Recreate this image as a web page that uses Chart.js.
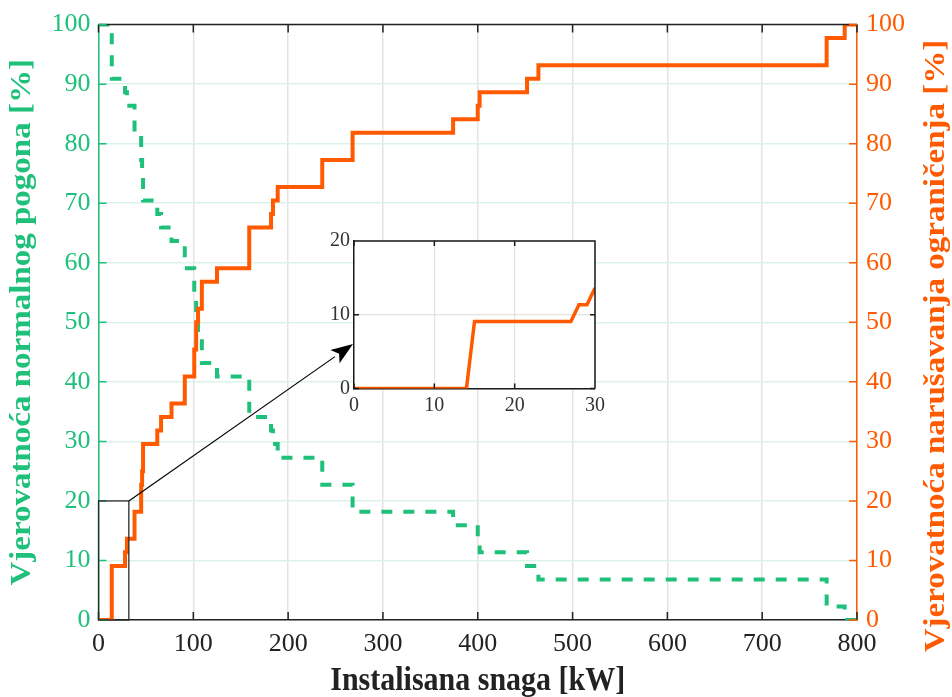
<!DOCTYPE html>
<html>
<head>
<meta charset="utf-8">
<script src="https://cdn.jsdelivr.net/npm/chart.js@4.4.0/dist/chart.umd.min.js"></script>
<style>
  body { margin: 0; background: #fff; }
  #wrap { position: relative; width: 952px; height: 697px; }
  #main-chart { position: absolute; left: 0; top: 0; }
  #inset-chart { position: absolute; left: 310px; top: 225px; }
</style>
</head>
<body>
<div id="wrap">
  <canvas id="main-chart" width="952" height="697"></canvas>
  <canvas id="inset-chart" width="300" height="200"></canvas>
</div>
<script>
// installed power where the probabilities change [kW]
const powerKW = [0, 14, 28, 30, 38, 45, 46, 47, 62, 66, 77, 91, 101, 103, 105, 109, 125, 159, 182, 184, 189, 236, 268, 374, 400, 402, 452, 464, 768, 787, 800];
// probability of constraint violation [%]
const violationPct = [0, 9.09, 11.36, 13.64, 18.18, 22.73, 25.0, 29.55, 31.82, 34.09, 36.36, 40.91, 45.45, 50.0, 52.27, 56.82, 59.09, 65.91, 68.18, 70.45, 72.73, 77.27, 81.82, 84.09, 86.36, 88.64, 90.91, 93.18, 97.73, 100, 100];
// probability of normal operation [%]
const normalPct = [100, 90.91, 88.64, 86.36, 81.82, 77.27, 75.0, 70.45, 68.18, 65.91, 63.64, 59.09, 54.55, 50.0, 47.73, 43.18, 40.91, 34.09, 31.82, 29.55, 27.27, 22.73, 18.18, 15.91, 13.64, 11.36, 9.09, 6.82, 2.27, 0, 0];

// zoomed detail, first 30 kW
const insetKW = [0, 14, 15, 27, 28, 29, 30];
const insetPct = [0, 0, 9.09, 9.09, 11.36, 11.36, 13.64];

const xTicks = [0, 100, 200, 300, 400, 500, 600, 700, 800];
const yTicks = [0, 10, 20, 30, 40, 50, 60, 70, 80, 90, 100];

const ORANGE = "#ff5a00";
const GREEN = "#1fc07a";
const SERIF = "'Liberation Serif', 'Times New Roman', serif";

// rectangle marking the zoomed region, in data units
const zoomBox = { x0: 0, x1: 32, y0: 0, y1: 20 };
// arrow tip, pixel position on the inset's left edge
const arrowTip = { x: 353, y: 344 };

const toPoints = (xs, ys) => xs.map((x, i) => ({ x: x, y: ys[i] }));

// bold title, slightly stretched along its height
function drawTitle(ctx, text, x, y, rot, color) {
  ctx.save();
  ctx.translate(x, y);
  ctx.rotate(rot);
  if (rot === 0) ctx.scale(1, 1.1);
  else ctx.scale(1.1, 1);
  ctx.font = "bold 30px " + SERIF;
  ctx.textAlign = "center";
  ctx.textBaseline = rot === 0 ? "alphabetic" : "middle";
  ctx.fillStyle = color;
  ctx.fillText(text, 0, 0);
  ctx.restore();
}

const mainFrame = {
  id: "mainFrame",
  afterDraw(chart) {
    const { ctx, chartArea: a, scales } = chart;
    const tick = 8;
    ctx.save();
    ctx.lineWidth = 1.5;

    // top edge of the box
    ctx.strokeStyle = "#222";
    ctx.beginPath();
    ctx.moveTo(a.left, a.top);
    ctx.lineTo(a.right, a.top);
    ctx.stroke();

    // inward ticks, bottom and top
    ctx.beginPath();
    xTicks.forEach((v) => {
      const px = scales.x.getPixelForValue(v);
      ctx.moveTo(px, a.bottom);
      ctx.lineTo(px, a.bottom - tick);
      ctx.moveTo(px, a.top);
      ctx.lineTo(px, a.top + tick);
    });
    ctx.stroke();

    // inward ticks, left (green) and right (orange)
    ctx.strokeStyle = GREEN;
    ctx.beginPath();
    yTicks.forEach((v) => {
      const py = scales.y.getPixelForValue(v);
      ctx.moveTo(a.left, py);
      ctx.lineTo(a.left + tick, py);
    });
    ctx.stroke();
    ctx.strokeStyle = ORANGE;
    ctx.beginPath();
    yTicks.forEach((v) => {
      const py = scales.y1.getPixelForValue(v);
      ctx.moveTo(a.right, py);
      ctx.lineTo(a.right - tick, py);
    });
    ctx.stroke();

    // zoom rectangle
    const bx0 = scales.x.getPixelForValue(zoomBox.x0);
    const bx1 = scales.x.getPixelForValue(zoomBox.x1);
    const by0 = scales.y.getPixelForValue(zoomBox.y0);
    const by1 = scales.y.getPixelForValue(zoomBox.y1);
    ctx.strokeStyle = "#2a2a2a";
    ctx.lineWidth = 1.3;
    ctx.strokeRect(bx0, by1, bx1 - bx0, by0 - by1);

    // arrow to the inset
    const ang = Math.atan2(arrowTip.y - by1, arrowTip.x - bx1);
    const headLen = 22, headHalf = 8;
    const baseX = arrowTip.x - headLen * Math.cos(ang);
    const baseY = arrowTip.y - headLen * Math.sin(ang);
    ctx.strokeStyle = "#000";
    ctx.lineWidth = 1.2;
    ctx.beginPath();
    ctx.moveTo(bx1, by1);
    ctx.lineTo(baseX, baseY);
    ctx.stroke();
    ctx.fillStyle = "#000";
    ctx.beginPath();
    ctx.moveTo(arrowTip.x, arrowTip.y);
    ctx.lineTo(baseX - headHalf * Math.sin(ang), baseY + headHalf * Math.cos(ang));
    ctx.lineTo(baseX + 5 * Math.cos(ang), baseY + 5 * Math.sin(ang));
    ctx.lineTo(baseX + headHalf * Math.sin(ang), baseY - headHalf * Math.cos(ang));
    ctx.closePath();
    ctx.fill();

    // axis titles
    drawTitle(ctx, "Instalisana snaga [kW]", (a.left + a.right) / 2, 690, 0, "#222");
    drawTitle(ctx, "Vjerovatnoća normalnog pogona [%]", 22, (a.top + a.bottom) / 2, -Math.PI / 2, GREEN);
    drawTitle(ctx, "Vjerovatnoća narušavanja ograničenja [%]", 936, 346, -Math.PI / 2, ORANGE);

    ctx.restore();
  },
};

new Chart(document.getElementById("main-chart"), {
  type: "line",
  data: {
    datasets: [
      {
        label: "Vjerovatnoća narušavanja ograničenja",
        data: toPoints(powerKW, violationPct),
        yAxisID: "y1",
        borderColor: ORANGE,
        borderWidth: 4,
        stepped: true,
        pointRadius: 0,
        order: 0,
      },
      {
        label: "Vjerovatnoća normalnog pogona",
        data: toPoints(powerKW, normalPct),
        yAxisID: "y",
        borderColor: GREEN,
        borderWidth: 4,
        borderDash: [11, 11],
        stepped: true,
        pointRadius: 0,
        order: 1,
      },
    ],
  },
  options: {
    responsive: false,
    animation: false,
    devicePixelRatio: 1,
    layout: { padding: { top: 21 } },
    plugins: {
      legend: { display: false },
      tooltip: { enabled: false },
    },
    scales: {
      x: {
        type: "linear",
        min: 0,
        max: 800,
        afterBuildTicks: (s) => { s.ticks = xTicks.map((v) => ({ value: v })); },
        afterFit: (s) => { s.height = 77; },
        ticks: { color: "#222", font: { family: SERIF, size: 26 }, padding: 9, maxRotation: 0 },
        grid: { color: "#e3e3e3", lineWidth: 1.5, drawTicks: false },
        border: { color: "#222", width: 1.5 },
      },
      y: {
        position: "left",
        min: 0,
        max: 100,
        afterBuildTicks: (s) => { s.ticks = yTicks.map((v) => ({ value: v })); },
        afterFit: (s) => { s.width = 98.5; },
        ticks: { color: GREEN, font: { family: SERIF, size: 26 }, padding: 8 },
        grid: { color: "#dcf3ea", lineWidth: 1.5, drawTicks: false },
        border: { color: GREEN, width: 1.5 },
      },
      y1: {
        position: "right",
        min: 0,
        max: 100,
        afterBuildTicks: (s) => { s.ticks = yTicks.map((v) => ({ value: v })); },
        afterFit: (s) => { s.width = 95; },
        ticks: { color: ORANGE, font: { family: SERIF, size: 26 }, padding: 9 },
        grid: { display: false, drawTicks: false },
        border: { color: ORANGE, width: 1.5 },
      },
    },
  },
  plugins: [mainFrame],
});

// inset: zoom on the first 30 kW
const insetFrame = {
  id: "insetFrame",
  beforeDraw(chart) {
    const { ctx, chartArea: a } = chart;
    ctx.save();
    ctx.fillStyle = "#fff";
    ctx.fillRect(a.left, a.top, a.right - a.left, a.bottom - a.top);
    ctx.restore();
  },
  afterDraw(chart) {
    const { ctx, chartArea: a, scales } = chart;
    const tick = 5;
    ctx.save();
    ctx.strokeStyle = "#1a1a1a";
    ctx.lineWidth = 1.5;
    ctx.beginPath();
    ctx.moveTo(a.left, a.top);
    ctx.lineTo(a.right, a.top);
    ctx.lineTo(a.right, a.bottom);
    [0, 10, 20, 30].forEach((v) => {
      const px = scales.x.getPixelForValue(v);
      ctx.moveTo(px, a.bottom);
      ctx.lineTo(px, a.bottom - tick);
      ctx.moveTo(px, a.top);
      ctx.lineTo(px, a.top + tick);
    });
    [0, 10, 20].forEach((v) => {
      const py = scales.y.getPixelForValue(v);
      ctx.moveTo(a.left, py);
      ctx.lineTo(a.left + tick, py);
      ctx.moveTo(a.right, py);
      ctx.lineTo(a.right - tick, py);
    });
    ctx.stroke();
    ctx.restore();
  },
};

new Chart(document.getElementById("inset-chart"), {
  type: "line",
  data: {
    datasets: [
      {
        data: toPoints(insetKW, insetPct),
        borderColor: ORANGE,
        borderWidth: 3.5,
        pointRadius: 0,
      },
    ],
  },
  options: {
    responsive: false,
    animation: false,
    devicePixelRatio: 1,
    layout: { padding: { top: 16, right: 12 } },
    plugins: {
      legend: { display: false },
      tooltip: { enabled: false },
    },
    scales: {
      x: {
        type: "linear",
        min: 0,
        max: 30,
        afterBuildTicks: (s) => { s.ticks = [0, 10, 20, 30].map((v) => ({ value: v })); },
        afterFit: (s) => { s.height = 36.5; },
        ticks: { color: "#333", font: { family: SERIF, size: 20 }, padding: 5, maxRotation: 0 },
        grid: { color: "#e2e2e2", lineWidth: 1.2, drawTicks: false },
        border: { color: "#1a1a1a", width: 1.5 },
      },
      y: {
        min: 0,
        max: 20,
        afterBuildTicks: (s) => { s.ticks = [0, 10, 20].map((v) => ({ value: v })); },
        afterFit: (s) => { s.width = 44; },
        ticks: { color: "#333", font: { family: SERIF, size: 20 }, padding: 4 },
        grid: { color: "#e2e2e2", lineWidth: 1.2, drawTicks: false },
        border: { color: "#1a1a1a", width: 1.5 },
      },
    },
  },
  plugins: [insetFrame],
});
</script>
</body>
</html>
